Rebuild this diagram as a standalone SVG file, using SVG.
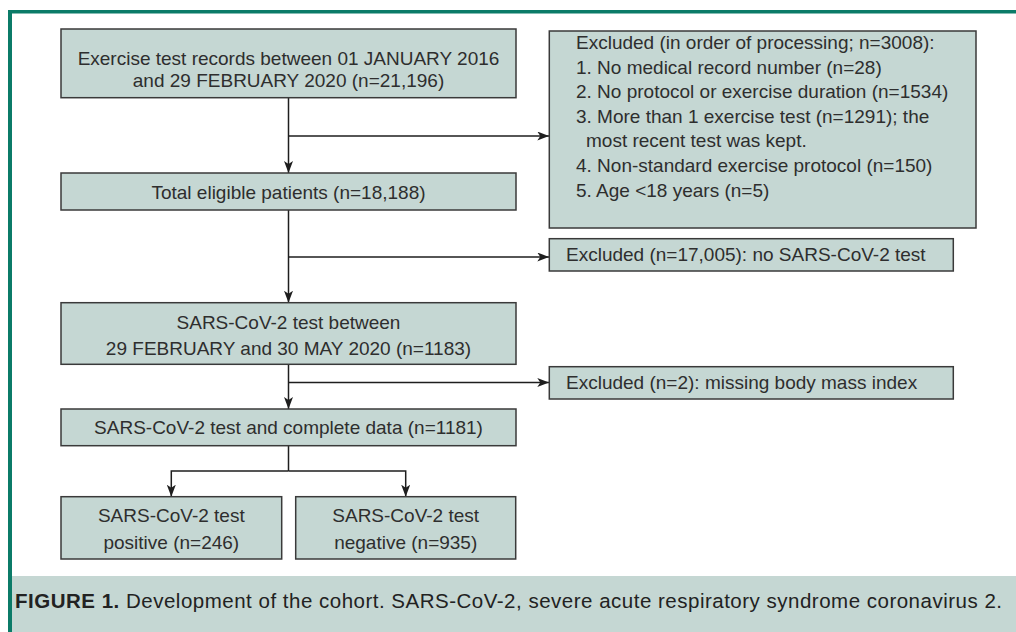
<svg xmlns="http://www.w3.org/2000/svg" width="1016" height="632" viewBox="0 0 1016 632">
<defs>
<style>
.box{fill:#c5d7d3;stroke:#3a3a3a;stroke-width:1.5}
.t{font-family:"Liberation Sans",Arial,sans-serif;font-size:19px;fill:#2e2e2e}
.c{text-anchor:middle}
.ln{fill:none;stroke:#1e1e1e;stroke-width:1.5}
.cap{font-family:"Liberation Sans",Arial,sans-serif;font-size:20.5px;fill:#222}
</style>
<marker id="ah" markerUnits="userSpaceOnUse" markerWidth="12" markerHeight="10" refX="12" refY="4.5" orient="auto">
<path d="M0,0 L12,4.5 L0,9 L3,4.5 z" fill="#1e1e1e"/>
</marker>
</defs>
<rect x="0" y="0" width="1016" height="632" fill="#ffffff"/>
<rect x="12" y="576" width="1004" height="56" fill="#c5d7d3"/>
<rect x="8" y="10" width="4" height="622" fill="#0b7b68"/>
<rect x="8" y="10" width="1008" height="3.5" fill="#0b7b68"/>

<g id="connectors">
<path class="ln" d="M288.5,97.7 V173" marker-end="url(#ah)"/>
<path class="ln" d="M288.5,136 H549.3" marker-end="url(#ah)"/>
<path class="ln" d="M288.5,210 V302.7" marker-end="url(#ah)"/>
<path class="ln" d="M288.5,257 H549.3" marker-end="url(#ah)"/>
<path class="ln" d="M288.5,364.3 V409" marker-end="url(#ah)"/>
<path class="ln" d="M288.5,382.5 H549.3" marker-end="url(#ah)"/>
<path class="ln" d="M288.5,445.7 V471"/>
<path class="ln" d="M288.5,471 H171.3 V496.7" marker-end="url(#ah)"/>
<path class="ln" d="M288.5,471 H405.7 V496.7" marker-end="url(#ah)"/>
</g>

<g id="records">
<rect class="box" x="61" y="29" width="455" height="68.7"/>
<text class="t c" x="288.5" y="65">Exercise test records between 01 JANUARY 2016</text>
<text class="t c" x="288.5" y="87">and 29 FEBRUARY 2020 (n=21,196)</text>
</g>

<g id="excluded1">
<rect class="box" x="549.3" y="31" width="426.7" height="197"/>
<text class="t" x="576" y="49">Excluded (in order of processing; n=3008):</text>
<text class="t" x="576" y="73.6">1. No medical record number (n=28)</text>
<text class="t" x="576" y="98.2">2. No protocol or exercise duration (n=1534)</text>
<text class="t" x="576" y="122.8">3. More than 1 exercise test (n=1291); the</text>
<text class="t" x="586" y="147.4">most recent test was kept.</text>
<text class="t" x="576" y="172">4. Non-standard exercise protocol (n=150)</text>
<text class="t" x="576" y="196.6">5. Age &lt;18 years (n=5)</text>
</g>

<g id="eligible">
<rect class="box" x="61" y="173" width="455" height="37"/>
<text class="t c" x="288.5" y="199">Total eligible patients (n=18,188)</text>
</g>

<g id="excluded2">
<rect class="box" x="549.3" y="238.7" width="404" height="32.3"/>
<text class="t" x="566" y="261">Excluded (n=17,005): no SARS-CoV-2 test</text>
</g>

<g id="tested">
<rect class="box" x="61" y="302.7" width="455" height="61.6"/>
<text class="t c" x="288.5" y="328.5">SARS-CoV-2 test between</text>
<text class="t c" x="288.5" y="354.5">29 FEBRUARY and 30 MAY 2020 (n=1183)</text>
</g>

<g id="excluded3">
<rect class="box" x="549.3" y="366.7" width="404" height="32.3"/>
<text class="t" x="566" y="388.5">Excluded (n=2): missing body mass index</text>
</g>

<g id="complete">
<rect class="box" x="61" y="409" width="455" height="36.7"/>
<text class="t c" x="288.5" y="434">SARS-CoV-2 test and complete data (n=1181)</text>
</g>

<g id="positive">
<rect class="box" x="61" y="496.7" width="220.7" height="62.3"/>
<text class="t c" x="171.3" y="521.5">SARS-CoV-2 test</text>
<text class="t c" x="171.3" y="548.5">positive (n=246)</text>
</g>

<g id="negative">
<rect class="box" x="295.7" y="496.7" width="220" height="62.3"/>
<text class="t c" x="405.7" y="521.5">SARS-CoV-2 test</text>
<text class="t c" x="405.7" y="548.5">negative (n=935)</text>
</g>

<text class="cap" x="15" y="608" textLength="987" lengthAdjust="spacing"><tspan font-weight="bold">FIGURE 1.</tspan> Development of the cohort. SARS-CoV-2, severe acute respiratory syndrome coronavirus 2.</text>
</svg>
